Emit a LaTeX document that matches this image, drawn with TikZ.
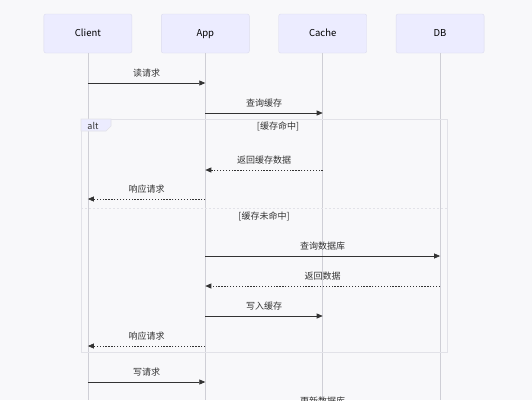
\documentclass[tikz,border=0pt]{standalone}
\usepackage{fontspec}
\setmainfont{Noto Sans CJK SC}
\usetikzlibrary{arrows.meta}

\definecolor{bgcol}{HTML}{F8F8FA}
\definecolor{actorfill}{HTML}{ECECFF}
\definecolor{actorline}{HTML}{DCDCEE}
\definecolor{lifecol}{HTML}{CFCFD6}
\definecolor{framecol}{HTML}{E2E2E8}
\definecolor{arrowcol}{HTML}{333333}
\definecolor{textcol}{HTML}{333333}

\begin{document}
\begin{tikzpicture}[x=1pt, y=-1pt]
        \useasboundingbox[fill=bgcol] (0,0) rectangle (532,400);
        \tikzstyle{actor}=[draw=actorline, fill=actorfill, rounded corners=2pt, minimum width=88pt, minimum height=39pt, text height=7pt, text depth=2pt, text=black, font=\fontsize{9.5}{11}\selectfont]
        \tikzstyle{msg}=[text=textcol, font=\fontsize{9}{10}\selectfont, inner sep=1pt]
        \tikzstyle{call}=[draw=arrowcol, line width=0.7pt, -{Triangle[length=6pt, width=5pt]}]
        \tikzstyle{reply}=[call, dash pattern=on 1.3pt off 1.6pt]
        \tikzstyle{lifeline}=[draw=lifecol, line width=0.6pt]
        \tikzstyle{frame}=[draw=framecol, line width=0.6pt]

        \matrix[column sep=29pt] at (264,33.5) {
            \node (client) [actor] {Client}; &
            \node (app)    [actor] {App}; &
            \node (cache)  [actor] {Cache}; &
            \node (db)     [actor] {DB}; \\
        };

        % lifelines
        \draw[lifeline] (client.south) -- (client.south |- 0,400);
        \draw[lifeline] (app.south) -- (app.south |- 0,400);
        \draw[lifeline] (cache.south) -- (cache.south |- 0,400);
        \draw[lifeline] (db.south) -- (db.south |- 0,400);

        % alt block
        \draw[frame] (81,119) rectangle (447,352);
        \filldraw[frame, fill=actorfill] (81,119) -- (111,119) -- (111,126) -- (106,131) -- (81,131) -- cycle;
        \node (alt) [msg] at (93,125.5) {alt};
        \node (hit) [msg] at (278,126) {[缓存命中]};
        \draw[frame, dash pattern=on 2pt off 2pt] (81,208) -- (447,208);
        \node (miss) [msg] at (264,216) {[缓存未命中]};

        % messages
        \draw[call]  (client |- 0,83)  -- node[msg, above=4.5pt] (m1) {读请求} (app |- 0,83);
        \draw[call]  (app |- 0,113)    -- node[msg, above=4.5pt] (m2) {查询缓存} (cache |- 0,113);
        \draw[reply] (cache |- 0,170)  -- node[msg, above=4.5pt] (m3) {返回缓存数据} (app |- 0,170);
        \draw[reply] (app |- 0,199)    -- node[msg, above=4.5pt] (m4) {响应请求} (client |- 0,199);
        \draw[call]  (app |- 0,256)    -- node[msg, above=4.5pt] (m5) {查询数据库} (db |- 0,256);
        \draw[reply] (db |- 0,286)     -- node[msg, above=4.5pt] (m6) {返回数据} (app |- 0,286);
        \draw[call]  (app |- 0,316)    -- node[msg, above=4.5pt] (m7) {写入缓存} (cache |- 0,316);
        \draw[reply] (app |- 0,346)    -- node[msg, above=4.5pt] (m8) {响应请求} (client |- 0,346);
        \draw[call]  (client |- 0,382) -- node[msg, above=4.5pt] (m9) {写请求} (app |- 0,382);
        \draw[call]  (app |- 0,411)    -- node[msg, above=4.5pt] (m10) {更新数据库} (db |- 0,411);

\end{tikzpicture}
\end{document}
